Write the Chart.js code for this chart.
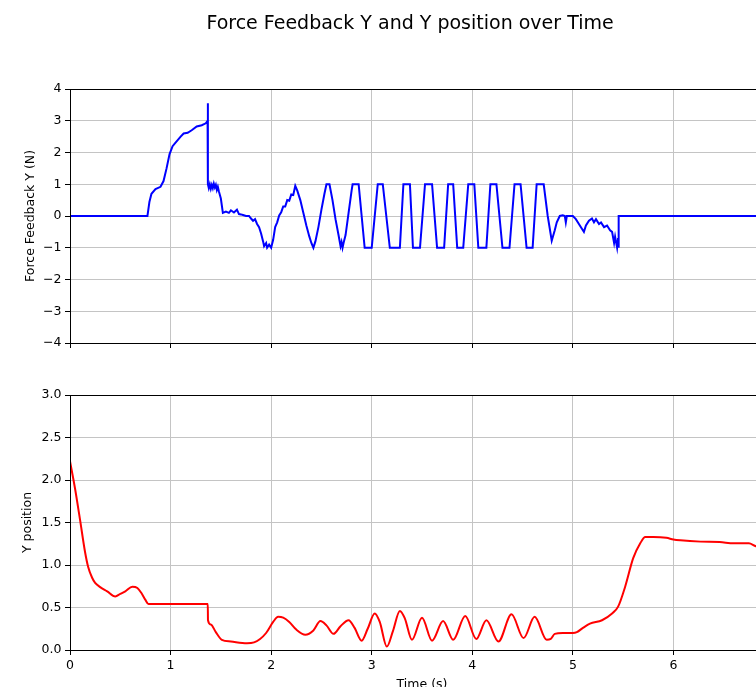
<!DOCTYPE html>
<html>
<head>
<meta charset="utf-8">
<title>Force Feedback Y and Y position over Time</title>
<script src="https://cdn.jsdelivr.net/npm/chart.js@4.4.1/dist/chart.umd.min.js"></script>
<style>
  html, body { margin: 0; padding: 0; background: #fff; overflow: hidden; }
  #wrap { position: relative; width: 820px; height: 700px; }
  #forceChart { position: absolute; left: 0; top: 0; }
  #posChart { position: absolute; left: 0; top: 354px; }
</style>
</head>
<body>
<div id="wrap">
  <canvas id="forceChart" width="820" height="354"></canvas>
  <canvas id="posChart" width="820" height="346"></canvas>
</div>
<script>
// Force feedback (top plot)
const forceTime = [
  0, 0.77, 0.79, 0.81, 0.85, 0.90, 0.93, 0.96, 0.99, 1.02, 1.06, 1.10, 1.13, 1.17, 1.21, 1.26, 1.31, 1.35, 1.368, 1.37, 1.372,
  1.38, 1.39, 1.40, 1.41, 1.42, 1.43, 1.44, 1.45, 1.46, 1.47, 1.48, 1.50, 1.52, 1.55, 1.58, 1.60, 1.63, 1.66, 1.68, 1.70,
  1.72, 1.75, 1.78, 1.80, 1.82, 1.84, 1.86, 1.88, 1.90, 1.92, 1.93, 1.95, 1.96, 1.98, 2.00, 2.02, 2.04, 2.06, 2.08, 2.10,
  2.12, 2.14, 2.16, 2.18, 2.20, 2.22, 2.24, 2.26, 2.29, 2.32, 2.35, 2.38, 2.40, 2.42, 2.44, 2.47, 2.50, 2.53, 2.55, 2.58,
  2.61, 2.64, 2.67, 2.69, 2.70, 2.71, 2.72, 2.74, 2.77, 2.80, 2.81, 2.87, 2.93, 3.00, 3.06, 3.11, 3.18, 3.28, 3.315, 3.38,
  3.41, 3.48, 3.53, 3.60, 3.65, 3.72, 3.76, 3.81, 3.85, 3.91, 3.96, 4.02, 4.06, 4.14, 4.18, 4.24, 4.30, 4.37, 4.42, 4.48,
  4.54, 4.60, 4.64, 4.71, 4.75, 4.79, 4.82, 4.84, 4.87, 4.90, 4.92, 4.93, 4.94, 5.00, 5.03, 5.06, 5.09, 5.11, 5.13, 5.16,
  5.19, 5.21, 5.23, 5.26, 5.28, 5.31, 5.34, 5.37, 5.39, 5.41, 5.42, 5.44, 5.45, 5.455, 5.456, 7.0
];
const forceY = [
  0, 0, 0.45, 0.7, 0.85, 0.92, 1.1, 1.5, 1.95, 2.2, 2.35, 2.5, 2.6, 2.62, 2.7, 2.82, 2.86, 2.92, 3.0, 3.55, 1.0,
  0.88, 1.0, 0.86, 0.98, 0.88, 1.02, 0.9, 0.98, 0.82, 0.92, 0.78, 0.55, 0.1, 0.14, 0.1, 0.18, 0.11, 0.2, 0.06, 0.05,
  0.03, 0, 0, -0.08, -0.15, -0.1, -0.25, -0.35, -0.55, -0.8, -0.95, -0.85, -1.0, -0.9, -1.0, -0.75, -0.35, -0.2, 0.02, 0.12,
  0.3, 0.3, 0.5, 0.48, 0.68, 0.66, 0.95, 0.8, 0.5, 0.1, -0.3, -0.65, -0.85, -1.0, -0.8, -0.35, 0.2, 0.7, 1.0, 1.0,
  0.5, -0.1, -0.6, -0.95, -0.82, -1.0, -0.85, -0.6, 0.1, 0.8, 1.0, 1.0, -1.0, -1.0, 1.0, 1.0, -1.0, -1.0, 1.0, 1.0,
  -1.0, -1.0, 1.0, 1.0, -1.0, -1.0, 1.0, 1.0, -1.0, -1.0, 1.0, 1.0, -1.0, -1.0, 1.0, 1.0, -1.0, -1.0, 1.0, 1.0,
  -1.0, -1.0, 1.0, 1.0, 0.0, -0.78, -0.45, -0.2, 0.0, 0.02, 0.0, -0.2, 0.0, 0.0, -0.1, -0.25, -0.4, -0.5, -0.3, -0.15,
  -0.08, -0.2, -0.1, -0.25, -0.2, -0.35, -0.3, -0.45, -0.5, -0.85, -0.65, -1.0, -0.7, -1.0, 0, 0
];

// Y position (bottom plot)
const posTime = [
  0, 0.05, 0.10, 0.15, 0.18, 0.22, 0.25, 0.30, 0.37, 0.45, 0.50, 0.55, 0.62, 0.67, 0.71, 0.75, 0.78, 1.37, 1.372, 1.40,
  1.45, 1.51, 1.60, 1.76, 1.83, 1.89, 1.95, 2.02, 2.07, 2.12, 2.18, 2.25, 2.34, 2.42, 2.49, 2.55, 2.62, 2.69, 2.77, 2.83,
  2.90, 2.96, 3.03, 3.08, 3.15, 3.21, 3.28, 3.33, 3.40, 3.50, 3.60, 3.71, 3.81, 3.93, 4.04, 4.14, 4.26, 4.39, 4.51, 4.62,
  4.74, 4.78, 4.82, 4.90, 5.00, 5.04, 5.10, 5.17, 5.29, 5.39, 5.45, 5.52, 5.60, 5.67, 5.72, 5.80, 5.93, 6.00, 6.07, 6.27,
  6.46, 6.60, 6.75, 6.82, 7.0
];
const posY = [
  2.22, 1.9, 1.53, 1.15, 0.98, 0.85, 0.79, 0.74, 0.69, 0.63, 0.66, 0.69, 0.745, 0.73, 0.67, 0.59, 0.54, 0.54, 0.35, 0.30,
  0.21, 0.12, 0.1, 0.08, 0.09, 0.13, 0.2, 0.33, 0.39, 0.38, 0.33, 0.24, 0.18, 0.23, 0.34, 0.29, 0.19, 0.28, 0.35, 0.26,
  0.11, 0.25, 0.43, 0.33, 0.04, 0.22, 0.46, 0.37, 0.12, 0.38, 0.11, 0.34, 0.12, 0.40, 0.13, 0.35, 0.10, 0.42, 0.14, 0.39,
  0.12, 0.13, 0.19, 0.2, 0.2, 0.21, 0.26, 0.31, 0.35, 0.43, 0.51, 0.745, 1.08, 1.255, 1.33, 1.33, 1.32, 1.30, 1.29, 1.275,
  1.27, 1.255, 1.255, 1.22, 1.2
];

const timeTicks = [0, 1, 2, 3, 4, 5, 6, 7];
const forceTicks = [-4, -3, -2, -1, 0, 1, 2, 3, 4];
const posTicks = [0, 0.5, 1, 1.5, 2, 2.5, 3];

Chart.defaults.font.family = "'DejaVu Sans', sans-serif";
Chart.defaults.font.size = 12.5;
Chart.defaults.color = '#000';
Chart.defaults.animation = false;

const gridColor = '#c4c4c4';

function toPoints(xs, ys) {
  return xs.map((x, i) => ({ x: x, y: ys[i] }));
}

function fmtMinus(v) {
  return v < 0 ? '\u2212' + Math.abs(v) : String(v);
}

// matplotlib style frame around the plot area
const framePlugin = {
  id: 'frame',
  afterDatasetsDraw(chart) {
    const { ctx, chartArea: a } = chart;
    const l = Math.round(a.left) + 0.5;
    const t = Math.round(a.top) + 0.5;
    const b = Math.round(a.bottom) + 0.5;
    ctx.save();
    ctx.strokeStyle = '#000';
    ctx.lineWidth = 1;
    ctx.strokeRect(l, t, a.right - l, b - t);
    ctx.restore();
  }
};

// figure title, centered on the whole figure
const supTitle = {
  id: 'supTitle',
  afterDraw(chart) {
    const ctx = chart.ctx;
    ctx.save();
    ctx.fillStyle = '#000';
    ctx.font = "19px 'DejaVu Sans', sans-serif";
    ctx.textAlign = 'center';
    ctx.textBaseline = 'middle';
    ctx.fillText('Force Feedback Y and Y position over Time', 410, 24);
    ctx.restore();
  }
};

function xScale(showLabels, height) {
  return {
    type: 'linear',
    min: 0,
    max: 7,
    afterBuildTicks: s => { s.ticks = timeTicks.map(v => ({ value: v })); },
    ticks: {
      padding: 3,
      maxRotation: 0,
      callback: v => showLabels ? String(v) : ''
    },
    grid: { color: gridColor, tickColor: '#000', tickLength: 5, lineWidth: 1 },
    border: { display: false },
    title: showLabels ? { display: true, text: 'Time (s)', padding: { top: 0, bottom: 8 } } : { display: false },
    afterFit: s => { s.height = height; }
  };
}

new Chart(document.getElementById('forceChart'), {
  type: 'line',
  data: {
    datasets: [{
      label: 'Force Feedback Y',
      data: toPoints(forceTime, forceY),
      borderColor: 'blue',
      borderWidth: 2,
      pointRadius: 0,
      tension: 0
    }]
  },
  options: {
    responsive: false,
    layout: { padding: { top: 89, right: 46, left: 0, bottom: 0 } },
    plugins: { legend: { display: false }, tooltip: { enabled: false } },
    scales: {
      x: xScale(false, 10),
      y: {
        min: -4,
        max: 4,
        afterBuildTicks: s => { s.ticks = forceTicks.map(v => ({ value: v })); },
        ticks: { padding: 3.5, callback: v => fmtMinus(v) },
        grid: { color: gridColor, tickColor: '#000', tickLength: 5 },
        border: { display: false },
        title: { display: true, text: 'Force Feedback Y (N)', padding: { top: 23.5, bottom: 0 } },
        afterFit: s => { s.width = 70; }
      }
    }
  },
  plugins: [framePlugin, supTitle]
});

new Chart(document.getElementById('posChart'), {
  type: 'line',
  data: {
    datasets: [{
      label: 'Y position',
      data: toPoints(posTime, posY),
      borderColor: 'red',
      borderWidth: 2,
      pointRadius: 0,
      cubicInterpolationMode: 'monotone'
    }]
  },
  options: {
    responsive: false,
    layout: { padding: { top: 41, right: 46, left: 0, bottom: 0 } },
    plugins: { legend: { display: false }, tooltip: { enabled: false } },
    scales: {
      x: xScale(true, 50),
      y: {
        min: 0,
        max: 3,
        afterBuildTicks: s => { s.ticks = posTicks.map(v => ({ value: v })); },
        ticks: { padding: 3.5, callback: v => v.toFixed(1) },
        grid: { color: gridColor, tickColor: '#000', tickLength: 5 },
        border: { display: false },
        title: { display: true, text: 'Y position', padding: { top: 20.5, bottom: 0 } },
        afterFit: s => { s.width = 70; }
      }
    }
  },
  plugins: [framePlugin]
});
</script>
</body>
</html>
